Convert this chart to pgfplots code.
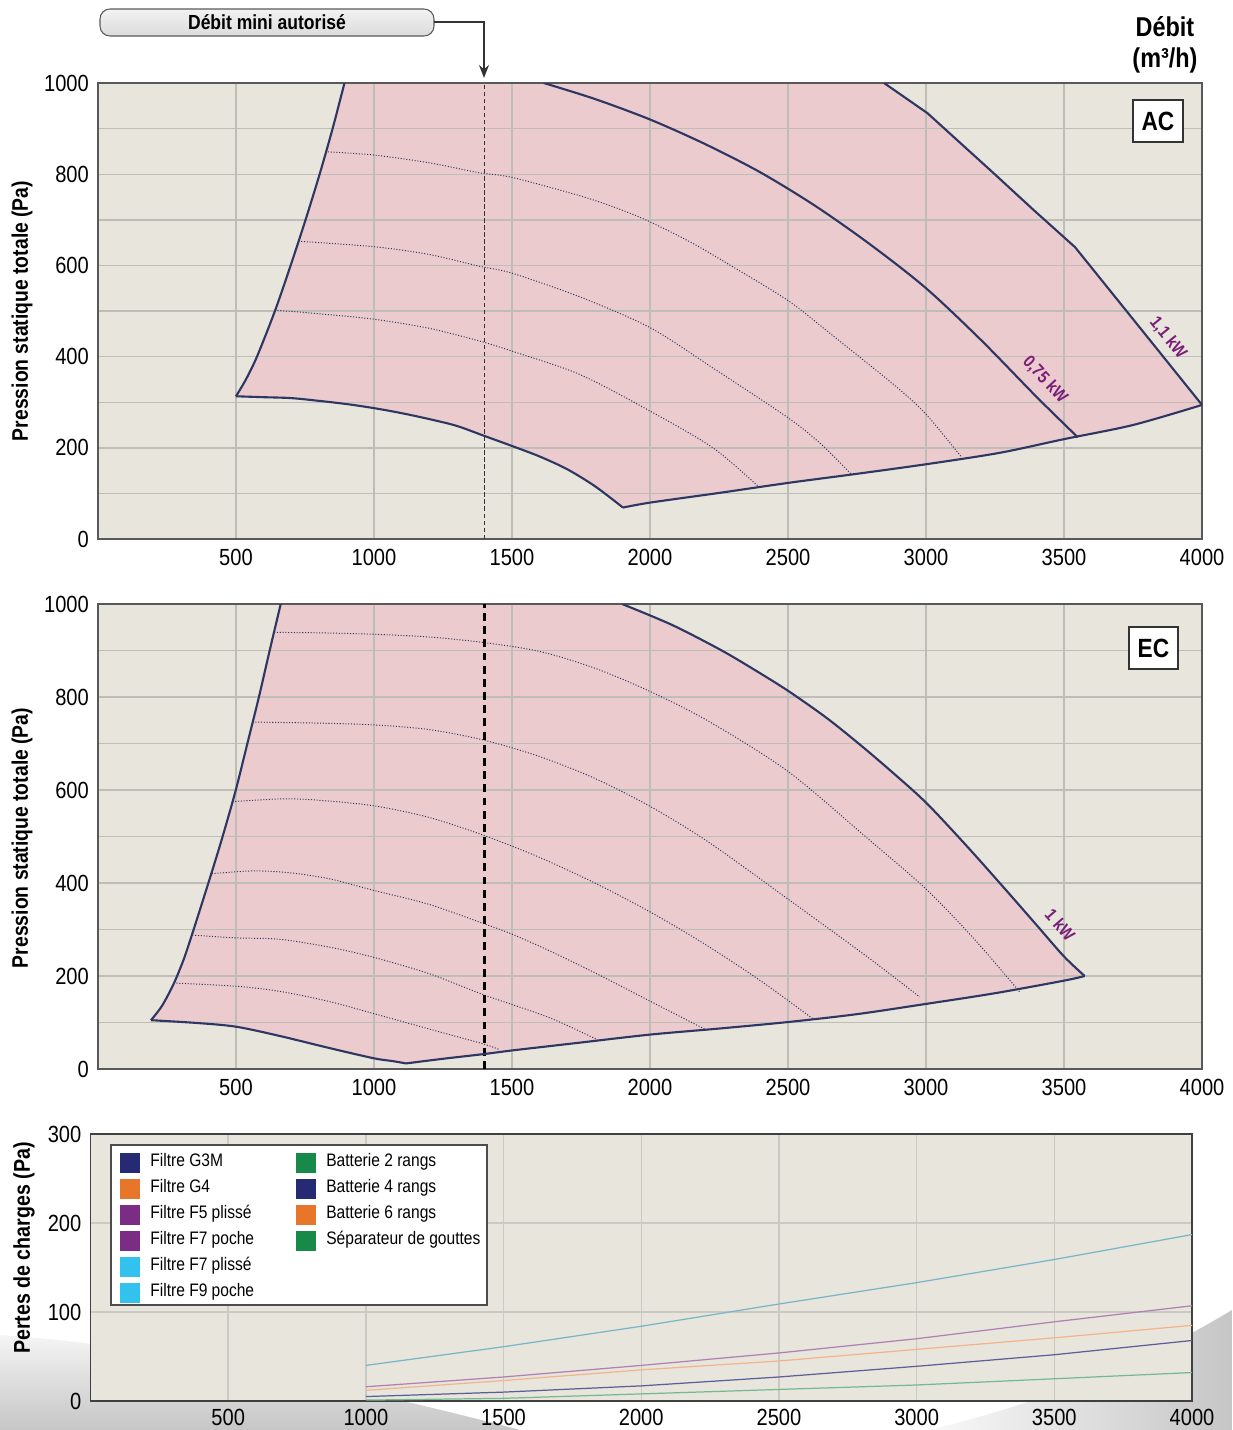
\documentclass[border=0pt]{standalone}
\usepackage{pgfplots}
\pgfplotsset{compat=1.18}
\usepackage{fontspec}
\setmainfont{Liberation Sans}[FakeStretch=0.86]
\usetikzlibrary{arrows.meta}
\pgfdeclarelayer{axis background}
\pgfdeclarelayer{axis grid}
\pgfdeclarelayer{axis ticks}
\pgfdeclarelayer{axis lines}
\pgfdeclarelayer{axis tick labels}
\pgfdeclarelayer{pre main}
\pgfdeclarelayer{axis descriptions}
\pgfdeclarelayer{axis foreground}

\definecolor{bgc}{HTML}{E8E5DC}
\definecolor{pinkc}{HTML}{EBCBCD}
\definecolor{gridc}{HTML}{BEBDB8}
\definecolor{curvec}{HTML}{2E3762}
\definecolor{kwc}{HTML}{7A1E78}
\definecolor{navyc}{HTML}{262A73}
\definecolor{orangec}{HTML}{E8762A}
\definecolor{purplec}{HTML}{7B2C84}
\definecolor{cyanc}{HTML}{33C2EE}
\definecolor{greenc}{HTML}{178A4A}

\pgfplotsset{
  panel/.style={
    scale only axis, set layers,
    xmin=0, xmax=4000,
    axis background/.style={fill=bgc},
    axis line style={draw=black!65, line width=0.9pt},
    major tick length=0pt, minor tick length=0pt,
    grid style={draw=gridc, line width=0.8pt},
    minor grid style={draw=gridc, line width=0.8pt},
    xtick={500,1000,...,4000},
    tick label style={font=\fontsize{13.3}{14}\selectfont},
    xticklabel style={yshift=-0.8mm},
    yticklabel style={xshift=-0.6mm},
    /pgf/number format/assume math mode=true,
    /pgf/number format/set thousands separator={},
  },
  outline/.style={draw=curvec, line width=1.2pt, mark=none},
  dotc/.style={draw=curvec, line width=0.55pt, dash pattern=on 0.6pt off 1pt, mark=none, smooth},
}

\begin{document}
\begin{tikzpicture}
\pgfsetlayers{axis background,axis grid,axis ticks,axis lines,axis tick labels,pre main,main,axis descriptions,axis foreground}

% decorative grey swooshes (below everything)
\begin{pgfonlayer}{axis background}
\begin{scope}[x=0.2mm,y=-0.2mm]
\shade[top color=gray!8, bottom color=gray!45] (0,1335) .. controls (150,1345) and (350,1385) .. (520,1430) -- (0,1430) -- cycle;
\shade[left color=gray!5, right color=gray!45] (930,1430) .. controls (1050,1400) and (1150,1360) .. (1232,1310) -- (1232,1430) -- cycle;
\end{scope}
\end{pgfonlayer}

% ---------------- Panel AC ----------------
\begin{axis}[panel, at={(19.6mm,-107.8mm)}, anchor=south west,
  width=220.8mm, height=91.2mm, ymin=0, ymax=1000,
  ytick={0,200,...,1000}, minor ytick={100,300,...,900}, grid=both]
\addplot[on layer=axis background, fill=pinkc, draw=none] coordinates {
 (500,313) (536,350) (576,400) (641,500) (698,600) (752,700) (803,800) (850,900) (893,1000)
 (2848,1000) (3005,934) (3240,805) (3389,722) (3540,640) (3717,507) (3850,407) (4000,294)
 (3750,250) (3550,224) (3500,219) (3267,189) (3001,164) (2750,143) (2500,123) (2250,101) (2002,80) (1902,69)
 (1800,116) (1700,153) (1600,181) (1500,204) (1400,226) (1300,248) (1200,263) (1100,276) (1000,287) (900,296) (800,303) (700,309) (600,311) (500,313)};
% dotted speed curves
\addplot[dotc] coordinates {(833,849) (1000,842) (1200,825) (1383,803) (1500,793) (1750,752) (1891,723) (2002,695) (2150,650) (2289,601) (2500,523) (2650,452) (2772,393) (2900,330) (3001,273) (3128,180)};
\addplot[dotc] coordinates {(726,653) (1000,641) (1200,624) (1383,598) (1500,583) (1750,530) (2002,463) (2228,375) (2500,266) (2620,208) (2729,142)};
\addplot[dotc] coordinates {(640,502) (800,494) (1000,482) (1200,462) (1383,434) (1500,412) (1745,361) (2002,280) (2228,200) (2391,116)};
% min flow
\addplot[draw=black!80, line width=0.6pt, dash pattern=on 2.5pt off 1.5pt] coordinates {(1400,0) (1400,1000)};
% envelope
\addplot[outline, smooth] coordinates {(500,313) (536,350) (576,400) (641,500) (698,600) (752,700) (803,800) (850,900) (893,1000)};
\addplot[outline, smooth] coordinates {(500,313) (600,311) (700,309) (800,303) (900,296) (1000,287) (1100,276) (1200,263) (1300,248) (1400,226) (1500,204) (1600,181) (1700,153) (1800,116) (1902,69)};
\addplot[outline, smooth] coordinates {(1902,69) (2002,80) (2250,101) (2500,123) (2750,143) (3001,164) (3267,189) (3500,219) (3750,250) (4000,294)};
\addplot[outline, smooth] coordinates {(1615,1000) (1800,965) (2000,920) (2200,866) (2400,804) (2600,730) (2800,645) (3000,550) (3200,436) (3400,312) (3550,223)};
\addplot[outline] coordinates {(2848,1000) (3005,934) (3240,805) (3389,722) (3540,640) (3717,507) (3850,407) (4000,294)};
\node[text=kwc, font=\fontsize{10}{10}\selectfont\bfseries, rotate=-47] at (axis cs:3431,349) {0,75 kW};
\node[text=kwc, font=\fontsize{10}{10}\selectfont\bfseries, rotate=-51] at (axis cs:3877,441) {1,1 kW};
\end{axis}

% ---------------- Panel EC ----------------
\begin{axis}[panel, at={(19.6mm,-213.8mm)}, anchor=south west,
  width=220.8mm, height=93mm, ymin=0, ymax=1000,
  ytick={0,200,...,1000}, minor ytick={100,300,...,900}, grid=both]
\addplot[on layer=axis background, fill=pinkc, draw=none] coordinates {
 (192,105) (232,136) (274,183) (310,235) (340,288) (376,355) (412,423) (448,493) (497,595) (540,697) (583,800) (622,900) (662,1000)
 (1899,1000) (2080,955) (2257,901) (2380,858) (2501,813) (2640,755) (2766,695) (2890,632) (3005,570) (3150,478) (3288,386) (3400,310) (3500,242) (3575,200)
 (3500,190) (3250,163) (3000,140) (2750,118) (2500,101) (2250,87) (2000,74) (1750,57) (1633,49) (1501,40) (1396,32) (1250,22) (1116,12)
 (1068,17) (1000,23) (839,45) (659,71) (500,91) (358,99) (192,105)};
\addplot[dotc] coordinates {(638,939) (800,938) (1000,935) (1200,929) (1400,917) (1600,898) (1800,862) (2000,812) (2212,748) (2500,640) (2790,495) (3000,387) (3177,278) (3339,166)};
\addplot[dotc] coordinates {(560,746) (790,744) (1000,740) (1200,730) (1400,707) (1600,672) (1800,625) (2000,565) (2212,488) (2501,365) (2790,240) (2977,155)};
\addplot[dotc] coordinates {(487,575) (669,581) (800,578) (1000,566) (1200,541) (1400,502) (1600,455) (1800,400) (2000,338) (2200,268) (2400,190) (2590,108)};
\addplot[dotc] coordinates {(412,420) (563,426) (695,422) (839,409) (1000,384) (1200,354) (1396,313) (1500,290) (1633,255) (1800,207) (2000,146) (2204,84)};
\addplot[dotc] coordinates {(342,288) (500,282) (659,279) (839,262) (1000,240) (1200,205) (1396,160) (1633,111) (1809,63)};
\addplot[dotc] coordinates {(274,185) (500,178) (659,167) (839,145) (1000,119) (1200,86) (1396,54) (1453,42)};
\addplot[draw=black, line width=1.3pt, dash pattern=on 4.5pt off 3pt] coordinates {(1400,0) (1400,1000)};
\addplot[outline, smooth] coordinates {(192,105) (232,136) (274,183) (310,235) (340,288) (376,355) (412,423) (448,493) (497,595) (540,697) (583,800) (622,900) (662,1000)};
\addplot[outline, smooth] coordinates {(192,105) (358,99) (500,91) (659,71) (839,45) (1000,23) (1068,17) (1116,12)};
\addplot[outline, smooth] coordinates {(1116,12) (1250,22) (1396,32) (1501,40) (1633,49) (1750,57) (2000,74) (2250,87) (2500,101) (2750,118) (3000,140) (3250,163) (3500,190) (3575,200)};
\addplot[outline, smooth] coordinates {(1899,1000) (2080,955) (2257,901) (2380,858) (2501,813) (2640,755) (2766,695) (2890,632) (3005,570) (3150,478) (3288,386) (3400,310) (3500,242) (3575,200)};
\node[text=kwc, font=\fontsize{10}{10}\selectfont\bfseries, rotate=-49] at (axis cs:3486,310) {1 kW};
\end{axis}

% ---------------- Panel pressure drops ----------------
\begin{axis}[panel, at={(18.1mm,-280.2mm)}, anchor=south west,
  width=220.3mm, height=53.4mm, ymin=0, ymax=300,
  ytick={0,100,200,300}, grid=major,
  xticklabel style={yshift=0.5mm},
  grid style={draw=gridc!70!bgc, line width=0.8pt},
  axis line style={draw=black!75, line width=0.9pt}]
\addplot[draw=cyanc!55!gray!80, line width=0.7pt] coordinates {(1000,40) (1500,61) (2000,84) (2500,109) (3000,133) (3500,159) (4000,187)};
\addplot[draw=purplec!60!white, line width=0.7pt] coordinates {(1000,16) (1500,27) (2000,40) (2500,54) (3000,70) (3500,89) (4000,107)};
\addplot[draw=orangec!55!white, line width=0.7pt] coordinates {(1000,12) (1500,23) (2000,35) (2500,45) (3000,58) (3500,71) (4000,85)};
\addplot[draw=navyc!75!white, line width=0.7pt] coordinates {(1000,5) (1500,10) (2000,17) (2500,27) (3000,39) (3500,52) (4000,68)};
\addplot[draw=greenc!60!white, line width=0.7pt] coordinates {(1000,1) (1500,3) (2000,8) (2500,13) (3000,18) (3500,25) (4000,32)};
\end{axis}

% ---------------- Annotations ----------------
\begin{scope}[x=0.2mm,y=-0.2mm]
\node[rotate=90, font=\fontsize{12.8}{13}\selectfont\bfseries] at (22,311) {Pression statique totale (Pa)};
\node[rotate=90, font=\fontsize{12.8}{13}\selectfont\bfseries] at (22,838) {Pression statique totale (Pa)};
\node[rotate=90, font=\fontsize{13}{13}\selectfont\bfseries] at (24,1248) {Pertes de charges (Pa)};
\node[font=\fontsize{15.5}{16}\selectfont\bfseries, align=center] at (1165,45) {Débit\\[2pt](m³/h)};
\node[draw=black!80, line width=0.8pt, fill=white, minimum width=10mm, minimum height=8.4mm, inner sep=0pt, font=\fontsize{15}{15}\selectfont\bfseries] at (1158,121) {AC};
\node[draw=black!80, line width=0.8pt, fill=white, minimum width=9.8mm, minimum height=8.4mm, inner sep=0pt, font=\fontsize{15}{15}\selectfont\bfseries] at (1153.5,648) {EC};
\node[rounded corners=2mm, draw=gray!70!black, line width=0.6pt, top color=gray!10, bottom color=gray!28, minimum width=66.8mm, minimum height=5.4mm, inner sep=0pt, font=\fontsize{11.6}{12}\selectfont\bfseries] at (267,22.5) {Débit mini autorisé};
\draw[-{Stealth[length=2.6mm,width=2mm]}, line width=0.8pt, black!80] (434,22) -- (484,22) -- (484,78);
% legend
\draw[draw=black!70, line width=0.8pt, fill=white] (111,1145) rectangle (487,1305);
\foreach \c/\t [count=\i from 0] in {navyc/Filtre G3M, orangec/Filtre G4, purplec/Filtre F5 plissé, purplec/Filtre F7 poche, cyanc/Filtre F7 plissé, cyanc/Filtre F9 poche}{
  \node[anchor=west, inner sep=0pt, font=\fontsize{10.3}{11}\selectfont] at (120,1163+26*\i) {\textcolor{\c}{\rule[-1.2mm]{4mm}{4mm}}\hspace{2mm}\t};
}
\foreach \c/\t [count=\i from 0] in {greenc/Batterie 2 rangs, navyc/Batterie 4 rangs, orangec/Batterie 6 rangs, greenc/Séparateur de gouttes}{
  \node[anchor=west, inner sep=0pt, font=\fontsize{10.3}{11}\selectfont] at (296,1163+26*\i) {\textcolor{\c}{\rule[-1.2mm]{4mm}{4mm}}\hspace{2mm}\t};
}
\end{scope}
\pgfresetboundingbox
\path[use as bounding box] (0,0) rectangle (246.4mm,-286mm);
\end{tikzpicture}
\end{document}
